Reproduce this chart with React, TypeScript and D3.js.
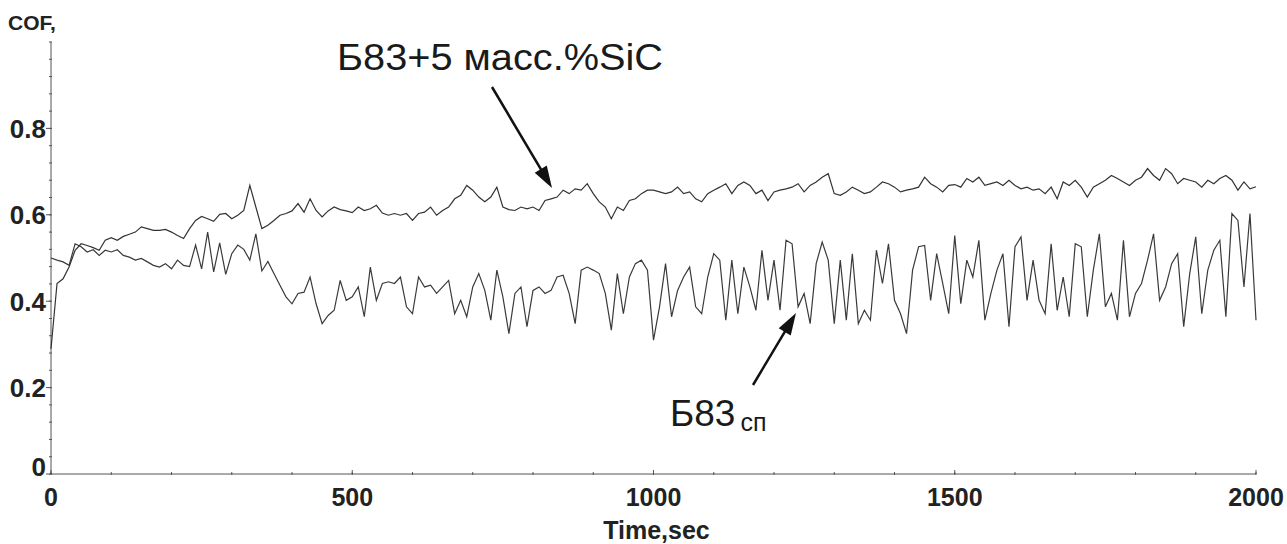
import React from 'react';
import * as d3 from 'd3';

// COF readings every 10 s, 0..2000 s
const sicSeries = [
  0.29, 0.441, 0.452, 0.479, 0.518, 0.533, 0.529, 0.524, 0.518, 0.541,
  0.547, 0.541, 0.55, 0.555, 0.56, 0.572, 0.568, 0.564, 0.564, 0.566,
  0.56, 0.552, 0.545, 0.568, 0.587, 0.596, 0.591, 0.585, 0.601, 0.603,
  0.591, 0.599, 0.61, 0.668, 0.618, 0.568, 0.576, 0.587, 0.599, 0.603,
  0.609, 0.626, 0.606, 0.637, 0.61, 0.595, 0.609, 0.618, 0.612, 0.609,
  0.605, 0.618, 0.61, 0.614, 0.622, 0.604, 0.599, 0.603, 0.599, 0.603,
  0.587, 0.603, 0.606, 0.618, 0.599, 0.61, 0.618, 0.637, 0.645, 0.668,
  0.657, 0.641, 0.63, 0.641, 0.664, 0.618, 0.612, 0.61, 0.618, 0.614,
  0.618, 0.61, 0.633, 0.637, 0.641, 0.657, 0.649, 0.66, 0.657, 0.672,
  0.649, 0.63, 0.618, 0.591, 0.618, 0.61, 0.633, 0.637, 0.649, 0.657,
  0.657, 0.653, 0.649, 0.653, 0.664, 0.649, 0.653, 0.637, 0.63, 0.649,
  0.657, 0.664, 0.672, 0.649, 0.668, 0.676, 0.668, 0.649, 0.657, 0.633,
  0.653, 0.657, 0.66, 0.664, 0.672, 0.653, 0.668, 0.676, 0.687, 0.695,
  0.649, 0.645, 0.653, 0.664, 0.657, 0.649, 0.653, 0.664, 0.676, 0.672,
  0.664, 0.653, 0.657, 0.66, 0.664, 0.687, 0.672, 0.664, 0.653, 0.668,
  0.67, 0.664, 0.684, 0.676, 0.687, 0.668, 0.672, 0.676, 0.668, 0.68,
  0.668, 0.66, 0.664, 0.657, 0.66, 0.649, 0.664, 0.637, 0.676, 0.668,
  0.68, 0.664, 0.641, 0.664, 0.672, 0.68, 0.691, 0.684, 0.676, 0.668,
  0.68, 0.687, 0.707, 0.691, 0.68, 0.707, 0.695, 0.672, 0.684, 0.68,
  0.676, 0.664, 0.68, 0.672, 0.684, 0.691, 0.68, 0.657, 0.676, 0.66,
  0.665,
];

const b83Series = [
  0.5, 0.495, 0.491, 0.483, 0.533, 0.526, 0.514, 0.519, 0.506, 0.518,
  0.514, 0.519, 0.506, 0.502, 0.495, 0.499, 0.491, 0.483, 0.479, 0.487,
  0.475, 0.495, 0.483, 0.48, 0.53, 0.475, 0.56, 0.468, 0.535, 0.462,
  0.51, 0.53, 0.52, 0.495, 0.556, 0.47, 0.492, 0.464, 0.437, 0.41,
  0.394, 0.418, 0.421, 0.456, 0.394, 0.348, 0.367, 0.379, 0.448, 0.402,
  0.41, 0.433, 0.364, 0.479, 0.402, 0.441, 0.445, 0.441, 0.456, 0.387,
  0.371, 0.456, 0.433, 0.437, 0.418, 0.433, 0.448, 0.371, 0.402, 0.364,
  0.433, 0.464, 0.425, 0.356, 0.472, 0.41, 0.325, 0.418, 0.433, 0.341,
  0.425, 0.433, 0.418, 0.425, 0.456, 0.46, 0.418, 0.348, 0.472, 0.479,
  0.472, 0.464, 0.418, 0.333, 0.464, 0.371, 0.456, 0.487, 0.495, 0.472,
  0.31, 0.387, 0.487, 0.364, 0.425, 0.456, 0.479, 0.387, 0.371, 0.456,
  0.51, 0.495, 0.356, 0.495, 0.371, 0.479, 0.433, 0.379, 0.518, 0.402,
  0.495, 0.379, 0.541, 0.533, 0.387, 0.418, 0.348, 0.487, 0.537, 0.495,
  0.348, 0.495, 0.356, 0.51, 0.348, 0.379, 0.356, 0.518, 0.441, 0.533,
  0.402, 0.371, 0.325, 0.472, 0.526, 0.529, 0.402, 0.51, 0.441, 0.371,
  0.552, 0.394, 0.495, 0.456, 0.541, 0.356, 0.418, 0.472, 0.51, 0.341,
  0.526, 0.549, 0.402, 0.495, 0.402, 0.371, 0.533, 0.379, 0.456, 0.364,
  0.533, 0.526, 0.364, 0.472, 0.556, 0.387, 0.418, 0.356, 0.541, 0.364,
  0.418, 0.441, 0.495, 0.556, 0.402, 0.433, 0.487, 0.51, 0.341, 0.464,
  0.549, 0.371, 0.472, 0.518, 0.541, 0.364, 0.603, 0.587, 0.433, 0.603,
  0.356,
];

const xTickValues = [0, 500, 1000, 1500, 2000];
const yTickValues = [0, 0.2, 0.4, 0.6, 0.8];
const yTickLabels = ['0', '0.2', '0.4', '0.6', '0.8'];
const sicLabel = 'Б83+5 масс.%SiC';
const b83Label = 'Б83';
const b83Sub = 'сп';

const W = 1287;
const H = 544;
const FONT = '"Liberation Sans", Arial, sans-serif';

function arrowHead(x1: number, y1: number, x2: number, y2: number) {
  const a = Math.atan2(y2 - y1, x2 - x1);
  const len = 22;
  const half = 7;
  const bx = x2 - len * Math.cos(a);
  const by = y2 - len * Math.sin(a);
  const px = -Math.sin(a) * half;
  const py = Math.cos(a) * half;
  return `M${x2},${y2}L${bx + px},${by + py}L${bx - px},${by - py}Z`;
}

export default function App() {
  const x = d3.scaleLinear().domain([0, 2000]).range([51, 1256]);
  const y = d3.scaleLinear().domain([0, 1]).range([474, 42]);
  const time = (i: number) => i * 10;

  const line = d3
    .line<number>()
    .x((_, i) => x(time(i)))
    .y((d) => y(d));

  const xMinor = d3.range(0, 2001, 100);
  const yMinor = d3.range(0, 1.001, 0.04);

  const arrows = [
    [492, 87, 552, 188],
    [753, 385, 796, 313],
  ];

  return (
    <svg
      width={W}
      height={H}
      style={{ position: 'absolute', left: 0, top: 0, background: '#fff' }}
      fontFamily={FONT}
    >
      {/* axes */}
      <g stroke="#555" strokeWidth={1}>
        <line x1={x(0)} x2={x(0)} y1={y(0)} y2={y(1)} />
        <line x1={x(0)} x2={x(2000)} y1={y(0)} y2={y(0)} />
        {yMinor.map((v) => (
          <line key={'ym' + v} x1={x(0) - 2} x2={x(0) + 1} y1={y(v)} y2={y(v)} />
        ))}
        {yTickValues.map((v) => (
          <line key={'yt' + v} x1={x(0) - 5} x2={x(0)} y1={y(v)} y2={y(v)} />
        ))}
        {xMinor.map((v) => (
          <line key={'xm' + v} x1={x(v)} x2={x(v)} y1={y(0) - 2} y2={y(0) + 1} />
        ))}
        {xTickValues.map((v) => (
          <line key={'xt' + v} x1={x(v)} x2={x(v)} y1={y(0) - 4} y2={y(0)} />
        ))}
      </g>

      <g fontWeight="bold" fill="#222">
        {yTickValues.map((v, i) => (
          <text key={'yl' + v} x={x(0) - 5} y={y(v) - (v === 0 ? 7 : 0)} dy="0.36em" textAnchor="end" fontSize={26}>
            {yTickLabels[i]}
          </text>
        ))}
        {xTickValues.map((v) => (
          <text key={'xl' + v} x={x(v)} y={y(0) + 32} textAnchor="middle" fontSize={25}>
            {v}
          </text>
        ))}
      </g>

      <text x={8} y={30} fontWeight="bold" fontSize={21} fill="#222">
        COF,
      </text>
      <text x={x(1000) + 3} y={539} fontWeight="bold" fontSize={25} fill="#222" textAnchor="middle">
        Time,sec
      </text>

      {/* series */}
      <path d={line(b83Series) ?? ''} fill="none" stroke="#3a3a3a" strokeWidth={1.2} />
      <path d={line(sicSeries) ?? ''} fill="none" stroke="#333" strokeWidth={1.2} />

      {/* annotations */}
      <text x={337} y={70} fontSize={37} fill="#1a1a1a" textLength={326} lengthAdjust="spacingAndGlyphs">
        {sicLabel}
      </text>
      <text x={670} y={426} fontSize={37} fill="#1a1a1a">
        {b83Label}
        <tspan dx={5} dy={5} fontSize={25}>
          {b83Sub}
        </tspan>
      </text>
      {arrows.map(([x1, y1, x2, y2], i) => {
        const a = Math.atan2(y2 - y1, x2 - x1);
        return (
          <g key={'ar' + i}>
            <line x1={x1} y1={y1} x2={x2 - 10 * Math.cos(a)} y2={y2 - 10 * Math.sin(a)} stroke="#111" strokeWidth={2.5} />
            <path d={arrowHead(x1, y1, x2, y2)} fill="#111" />
          </g>
        );
      })}
    </svg>
  );
}
